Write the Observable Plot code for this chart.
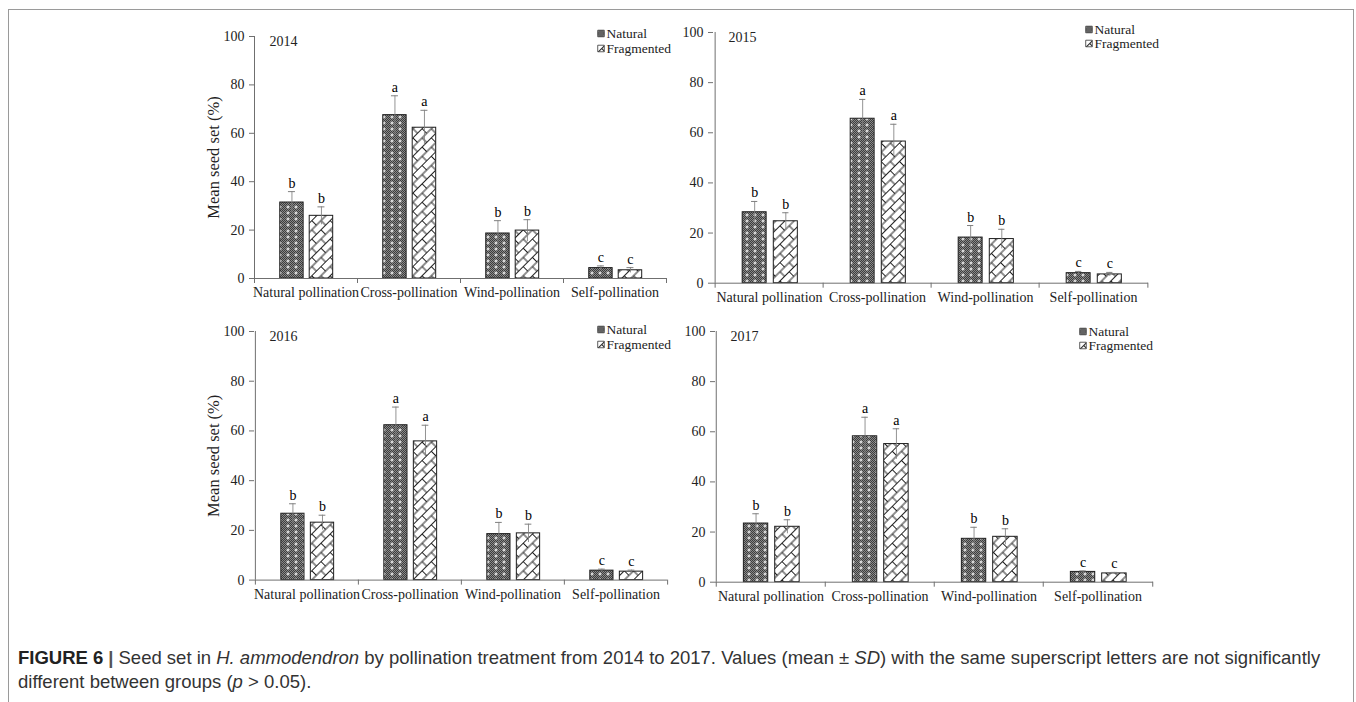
<!DOCTYPE html>
<html><head><meta charset="utf-8">
<script src="https://cdn.jsdelivr.net/npm/d3@7"></script>
<script src="https://cdn.jsdelivr.net/npm/@observablehq/plot@0.6"></script>
<style>
html,body{margin:0;padding:0;background:#fff;}
body{width:1356px;height:702px;overflow:hidden;position:relative;}
#border{position:absolute;left:8px;top:9px;width:1346px;height:720px;border:1.5px solid #9a9a9a;box-sizing:border-box;}
#caption{position:absolute;left:18px;top:646px;width:1325px;font-family:"Liberation Sans",Arial,sans-serif;font-size:18.5px;line-height:24px;color:#333;}
#caption div{white-space:nowrap;}
#caption b{color:#222;}
#caption .sep{color:#555;font-weight:bold;margin:0 5px;}
</style></head><body>
<div id="border"></div>
<svg width="0" height="0" style="position:absolute">
  <defs>
    <pattern id="chk" width="2" height="2" patternUnits="userSpaceOnUse">
      <rect width="2" height="2" fill="#8a8a8a"/>
      <rect width="1" height="1" fill="#3c3c3c"/>
      <rect x="1" y="1" width="1" height="1" fill="#3c3c3c"/>
    </pattern>
    <pattern id="pNat" width="8" height="6" patternUnits="userSpaceOnUse">
      <rect width="8" height="6" fill="url(#chk)"/>
      <path d="M4,1.5V4.5M2.5,3H5.5" stroke="#fff" stroke-width="1" fill="none"/>
    </pattern>
    <pattern id="pFrag" width="13" height="13" patternUnits="userSpaceOnUse" patternTransform="rotate(-45)">
      <rect width="13" height="13" fill="#fff"/>
      <path d="M0,0.5H13M0,7H13M0.5,0.5V7M7,7V13.5" stroke="#222" stroke-width="1" fill="none"/>
    </pattern>
  </defs>
</svg>
<div id="charts"></div>
<div id="caption">
  <div><b>FIGURE 6</b><span class="sep">|</span>Seed set in <i>H. ammodendron</i> by pollination treatment from 2014 to 2017. Values (mean ± <i>SD</i>) with the same superscript letters are not significantly</div>
  <div>different between groups (<i>p</i> &gt; 0.05).</div>
</div>
<script>
// ---- data ----
const categories = ["Natural pollination", "Cross-pollination", "Wind-pollination", "Self-pollination"];
const seriesNames = ["Natural", "Fragmented"];
const years = ["2014", "2015", "2016", "2017"];
const letters = ["b", "a", "b", "c"];
const yTicks = [0, 20, 40, 60, 80, 100];
const yLabel = "Mean seed set (%)";

const natural2014 = [31.4, 67.5, 18.6, 4.3];
const naturalSd2014 = [4.5, 8.0, 5.3, 0.9];
const fragmented2014 = [25.9, 62.3, 19.8, 3.4];
const fragmentedSd2014 = [3.7, 7.2, 4.5, 1.1];

const natural2015 = [28.3, 65.6, 18.2, 4.0];
const naturalSd2015 = [4.3, 7.7, 4.8, 0.7];
const fragmented2015 = [24.7, 56.5, 17.6, 3.5];
const fragmentedSd2015 = [3.4, 6.9, 3.9, 0.8];

const natural2016 = [26.7, 62.3, 18.5, 3.8];
const naturalSd2016 = [4.0, 7.3, 4.7, 0.6];
const fragmented2016 = [23.1, 55.8, 18.8, 3.4];
const fragmentedSd2016 = [3.0, 6.5, 3.7, 0.6];

const natural2017 = [23.4, 58.2, 17.3, 4.1];
const naturalSd2017 = [3.9, 7.6, 4.6, 0.4];
const fragmented2017 = [22.1, 55.1, 18.1, 3.5];
const fragmentedSd2017 = [2.8, 6.1, 3.2, 0.4];

// ---- layout (pixel styling only) ----
const panels = [
  {year: years[0], nat: natural2014, natSd: naturalSd2014, frag: fragmented2014, fragSd: fragmentedSd2014,
   x0: 254, x1: 666, yTop: 36, yBot: 278, showLabel: true, legDx: -65.5, legDy: [-3, 12]},
  {year: years[1], nat: natural2015, natSd: naturalSd2015, frag: fragmented2015, fragSd: fragmentedSd2015,
   x0: 713, x1: 1148, yTop: 32.3, yBot: 283, showLabel: false, legDx: -59.5, legDy: [-3, 11]},
  {year: years[2], nat: natural2016, natSd: naturalSd2016, frag: fragmented2016, fragSd: fragmentedSd2016,
   x0: 254, x1: 667, yTop: 330.7, yBot: 579.3, showLabel: true, legDx: -66.5, legDy: [-2, 13]},
  {year: years[3], nat: natural2017, natSd: naturalSd2017, frag: fragmented2017, fragSd: fragmentedSd2017,
   x0: 715, x1: 1153, yTop: 331, yBot: 581.7, showLabel: false, legDx: -70.5, legDy: [0, 14]}
];

const fills = {Natural: "url(#pNat)", Fragmented: "url(#pFrag)"};
const barFrac = {Natural: [0.25, 0.477], Fragmented: [0.536, 0.764]};
const axisColor = "#6f6f6f";
const errColor = "#808080";
const ml = 90, mr = 32, mt = 36, mb = 34;

const container = document.getElementById("charts");

for (const p of panels) {
  const w = p.x1 - p.x0, h = p.yBot - p.yTop;
  const bw = w / categories.length;
  const rows = [];
  categories.forEach((c, i) => {
    rows.push({cat: c, series: seriesNames[0], mean: p.nat[i], sd: p.natSd[i], letter: letters[i]});
    rows.push({cat: c, series: seriesNames[1], mean: p.frag[i], sd: p.fragSd[i], letter: letters[i]});
  });
  const marks = [];
  for (const s of seriesNames) {
    const data = rows.filter(d => d.series === s);
    const [a, b] = barFrac[s];
    const off = ((a + b) / 2 - 0.5) * bw;
    marks.push(
      Plot.barY(data, {x: "cat", y: "mean", fill: fills[s], stroke: "#1e1e1e", strokeWidth: 1,
        insetLeft: a * bw, insetRight: (1 - b) * bw}),
      Plot.ruleX(data, {x: "cat", y1: d => d.mean - d.sd, y2: d => d.mean + d.sd, dx: off, stroke: errColor, strokeWidth: 1, strokeOpacity: 0.85}),
      Plot.tickY(data, {x: "cat", y: d => d.mean + d.sd, dx: off, insetLeft: bw / 2 - 3.5, insetRight: bw / 2 - 3.5, stroke: errColor, strokeWidth: 1}),
      Plot.text(data, {x: "cat", y: d => d.mean + d.sd, text: "letter", dx: off, dy: -4, lineAnchor: "bottom", fontSize: 14, fill: "black"})
    );
  }
  marks.push(
    Plot.ruleY([0], {stroke: axisColor, strokeWidth: 1}),
    Plot.ruleX([categories[0]], {x: d => d, y1: 0, y2: 100, dx: -bw / 2, stroke: axisColor, strokeWidth: 1}),
    Plot.ruleX(categories, {x: d => d, y1: 0, y2: 0, dx: -bw / 2, insetBottom: -5, stroke: axisColor, strokeWidth: 1}),
    Plot.ruleX([categories[categories.length - 1]], {x: d => d, y1: 0, y2: 0, dx: bw / 2, insetBottom: -5, stroke: axisColor, strokeWidth: 1}),
    Plot.axisY({ticks: yTicks, tickSize: 5, tickPadding: 5, label: null, stroke: axisColor, fill: "#222", fontSize: 14}),
    Plot.axisX({tickSize: 0, tickPadding: 9, label: null, fill: "#222", fontSize: 14}),
    Plot.text([p.year], {frameAnchor: "top-left", dx: 15, dy: 5.5, textAnchor: "start", lineAnchor: "middle", fontSize: 14, fill: "#222"})
  );
  if (p.showLabel) {
    marks.push(Plot.text([yLabel], {frameAnchor: "left", rotate: -90, dx: -41, textAnchor: "middle", lineAnchor: "middle", fontSize: 16.5, fill: "#222"}));
  }
  seriesNames.forEach((s, i) => {
    marks.push(
      Plot.dot([s], {frameAnchor: "top-right", dx: p.legDx, dy: p.legDy[i], symbol: "square", r: 3.7, fill: fills[s], stroke: "#333", strokeWidth: 0.8}),
      Plot.text([s], {frameAnchor: "top-right", dx: p.legDx + 5.5, dy: p.legDy[i], textAnchor: "start", lineAnchor: "middle", fontSize: 13.5, fill: "#222"})
    );
  });

  const chart = Plot.plot({
    width: w + ml + mr, height: h + mt + mb,
    marginLeft: ml, marginRight: mr, marginTop: mt, marginBottom: mb,
    style: {fontFamily: '"Liberation Serif", "Times New Roman", serif', fontSize: "14px", color: "#222", background: "transparent", overflow: "visible"},
    x: {domain: categories, padding: 0, axis: null},
    y: {domain: [0, 100], axis: null},
    marks
  });
  chart.style.position = "absolute";
  chart.style.left = (p.x0 - ml) + "px";
  chart.style.top = (p.yTop - mt) + "px";
  chart.style.maxWidth = "none";
  container.appendChild(chart);
}
</script>
</body></html>
